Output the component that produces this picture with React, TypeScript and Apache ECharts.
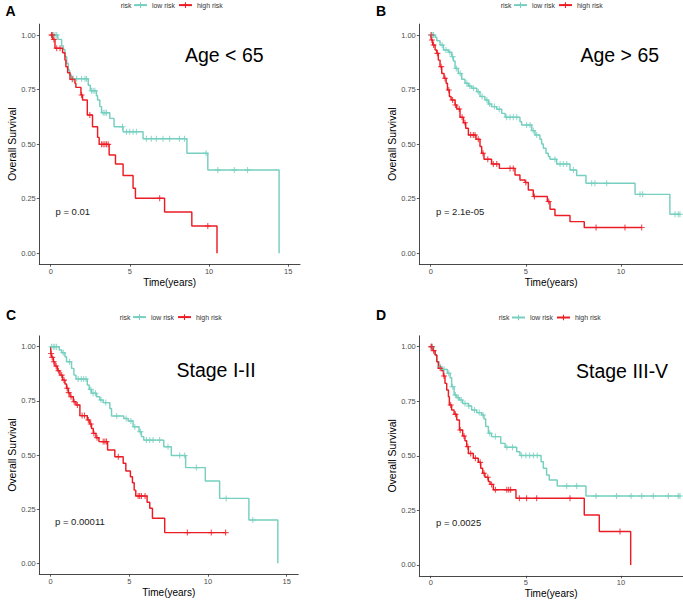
import React, { useEffect, useRef } from "react";
import * as echarts from "echarts";

// ---------- data ----------
const xTicksLong = [0, 5, 10, 15];
const xTicksShort = [0, 5, 10];
const yTicks = [0, 0.25, 0.5, 0.75, 1];
const legendNames = ["low risk", "high risk"];
const panelLetters = ["A", "B", "C", "D"];
const panelTitles = ["Age < 65", "Age > 65", "Stage I-II", "Stage III-V"];
const pValues = ["p = 0.01", "p = 2.1e-05", "p = 0.00011", "p = 0.0025"];

// Panel A (Age < 65)
const aLowTimes = [0.45, 0.69, 0.8, 0.9, 1.01, 1.11, 1.19, 1.32, 2.37, 2.5, 2.89, 2.96, 3.1, 3.21, 3.73, 4.0, 4.57, 5.83, 8.6, 9.92, 14.42];
const aLowSurv = [0.98, 0.95, 0.934, 0.9, 0.87, 0.84, 0.817, 0.8, 0.77, 0.745, 0.722, 0.702, 0.672, 0.644, 0.618, 0.58, 0.557, 0.525, 0.458, 0.382, 0];
const aLowCensor = [0.17, 0.27, 0.38, 1.43, 1.64, 1.95, 2.16, 2.26, 2.58, 2.68, 2.79, 3.31, 3.42, 3.52, 4.53, 4.78, 4.99, 5.2, 5.41, 6.04, 6.35, 6.67, 7.09, 7.51, 8.13, 8.45, 9.81, 10.55, 11.59, 12.43];
const aHighTimes = [0.13, 0.27, 0.75, 0.9, 0.96, 1.07, 1.22, 1.53, 1.59, 1.91, 2.01, 2.31, 2.64, 2.96, 3.06, 3.69, 4.09, 4.57, 5.2, 5.35, 7.19, 8.91, 10.5];
const aHighSurv = [0.98, 0.939, 0.919, 0.885, 0.855, 0.827, 0.797, 0.779, 0.76, 0.725, 0.702, 0.634, 0.58, 0.531, 0.499, 0.45, 0.409, 0.356, 0.298, 0.252, 0.189, 0.125, 0];
const aHighCensor = [0.05, 0.1, 0.2, 0.38, 0.59, 1.36, 1.95, 2.47, 3.21, 3.31, 3.42, 3.52, 3.63, 6.88, 9.92];

// Panel B (Age > 65)
const bLowTimes = [0.23, 0.32, 0.49, 0.67, 0.93, 1.1, 1.19, 1.28, 1.45, 1.63, 1.8, 1.98, 2.15, 2.42, 2.59, 2.85, 3.03, 3.2, 3.47, 3.73, 3.91, 4.69, 4.78, 5.31, 5.48, 5.74, 5.83, 5.92, 6.06, 6.18, 6.27, 6.62, 7.32, 7.67, 8.16, 10.74, 12.57];
const bLowSurv = [0.99, 0.974, 0.954, 0.931, 0.921, 0.901, 0.881, 0.847, 0.824, 0.797, 0.779, 0.766, 0.756, 0.74, 0.718, 0.702, 0.684, 0.672, 0.66, 0.641, 0.623, 0.603, 0.588, 0.562, 0.542, 0.522, 0.501, 0.481, 0.458, 0.443, 0.431, 0.409, 0.382, 0.356, 0.321, 0.27, 0.179];
const bLowCensor = [0.03, 0.08, 0.15, 0.6, 0.8, 1.0, 1.15, 1.35, 1.55, 1.9, 2.05, 2.25, 2.5, 2.7, 2.95, 3.1, 3.35, 3.6, 3.99, 4.17, 4.34, 4.52, 5.04, 5.22, 5.39, 5.57, 6.53, 6.8, 6.97, 7.15, 7.5, 8.46, 8.63, 9.25, 11.0, 11.14, 12.84, 13.01, 13.1];
const bHighTimes = [0.03, 0.105, 0.23, 0.32, 0.4, 0.49, 0.58, 0.7, 0.81, 0.88, 0.98, 1.07, 1.28, 1.37, 1.54, 1.72, 1.84, 1.98, 2.38, 2.59, 2.68, 2.8, 3.2, 3.61, 4.43, 4.69, 4.96, 5.13, 5.39, 6.13, 6.27, 6.53, 7.32, 8.07];
const bHighSurv = [0.977, 0.954, 0.931, 0.916, 0.885, 0.855, 0.824, 0.802, 0.779, 0.748, 0.718, 0.702, 0.679, 0.661, 0.623, 0.598, 0.573, 0.542, 0.522, 0.489, 0.458, 0.431, 0.409, 0.389, 0.359, 0.336, 0.324, 0.29, 0.26, 0.237, 0.202, 0.173, 0.145, 0.118];
const bHighCensor = [0.02, 0.06, 0.15, 0.35, 0.55, 0.75, 0.95, 1.15, 1.3, 1.5, 1.65, 1.8, 2.1, 2.24, 2.33, 2.5, 2.75, 3.0, 3.29, 3.47, 4.17, 4.34, 5.0, 5.45, 6.2, 8.69, 10.21, 11.09];

// Panel C (Stage I-II)
const cLowTimes = [0.55, 0.7, 0.91, 1.01, 1.33, 1.48, 1.61, 2.33, 2.45, 2.6, 2.92, 3.13, 3.34, 3.76, 3.87, 4.65, 4.93, 5.24, 5.62, 5.77, 5.92, 7.19, 7.67, 8.58, 9.83, 10.74, 12.6, 14.44];
const cLowSurv = [0.985, 0.972, 0.954, 0.931, 0.9, 0.869, 0.851, 0.823, 0.803, 0.785, 0.769, 0.754, 0.742, 0.715, 0.68, 0.669, 0.657, 0.631, 0.608, 0.585, 0.569, 0.538, 0.498, 0.442, 0.38, 0.3, 0.2, 0];
const cLowCensor = [0.06, 0.17, 0.27, 0.38, 0.8, 1.2, 1.75, 1.95, 2.1, 2.25, 2.55, 2.7, 2.85, 3.2, 3.5, 4.2, 4.8, 5.1, 5.35, 5.7, 6.09, 6.3, 6.51, 6.93, 7.46, 8.2, 8.52, 9.26, 11.16, 12.85];
const cHighTimes = [0.02, 0.06, 0.17, 0.27, 0.42, 0.59, 0.76, 0.91, 1.01, 1.12, 1.23, 1.44, 1.61, 1.86, 2.33, 2.49, 2.6, 2.71, 2.88, 3.07, 3.62, 4.08, 4.61, 4.78, 5.07, 5.2, 5.31, 5.41, 6.13, 6.3, 6.47, 7.25];
const cHighSurv = [0.969, 0.951, 0.931, 0.911, 0.889, 0.869, 0.846, 0.828, 0.808, 0.788, 0.769, 0.746, 0.731, 0.682, 0.662, 0.643, 0.623, 0.6, 0.58, 0.562, 0.523, 0.492, 0.462, 0.426, 0.4, 0.372, 0.338, 0.311, 0.282, 0.254, 0.208, 0.142];
const cHighCensor = [0.03, 0.1, 0.2, 0.35, 0.5, 0.7, 0.85, 1.05, 1.15, 1.3, 1.5, 1.7, 2.0, 2.15, 2.4, 2.55, 2.75, 2.95, 3.34, 3.45, 3.55, 4.3, 5.56, 5.66, 5.77, 6.0, 8.69, 10.21, 11.12];

// Panel D (Stage III-V)
const dLowTimes = [0.14, 0.23, 0.32, 0.44, 0.58, 0.88, 1.02, 1.1, 1.23, 1.37, 1.51, 1.68, 1.98, 2.15, 2.42, 2.68, 2.8, 2.89, 3.03, 3.2, 3.68, 3.91, 4.52, 4.69, 5.8, 5.92, 6.09, 6.23, 6.65, 8.16];
const dLowSurv = [0.982, 0.962, 0.931, 0.908, 0.896, 0.878, 0.858, 0.817, 0.779, 0.766, 0.756, 0.74, 0.728, 0.71, 0.698, 0.687, 0.669, 0.634, 0.603, 0.588, 0.557, 0.539, 0.519, 0.501, 0.473, 0.443, 0.412, 0.389, 0.362, 0.316];
const dLowCensor = [0.03, 0.08, 0.5, 0.7, 0.95, 1.15, 1.3, 1.45, 1.6, 1.8, 2.0, 2.3, 2.55, 2.75, 3.1, 3.4, 4.0, 4.3, 4.78, 5.0, 5.2, 5.4, 5.6, 7.15, 7.67, 8.69, 9.77, 10.53, 11.09, 11.7, 12.49, 13.01, 13.1];
const dHighTimes = [0.105, 0.23, 0.32, 0.4, 0.58, 0.67, 0.75, 0.84, 0.93, 0.98, 1.1, 1.23, 1.37, 1.51, 1.68, 1.8, 1.89, 1.98, 2.24, 2.5, 2.63, 2.73, 2.85, 3.03, 3.12, 3.29, 4.48, 8.07, 8.86, 10.51];
const dHighSurv = [0.982, 0.962, 0.931, 0.901, 0.89, 0.866, 0.832, 0.802, 0.771, 0.733, 0.71, 0.69, 0.664, 0.618, 0.591, 0.569, 0.542, 0.511, 0.489, 0.47, 0.443, 0.42, 0.402, 0.382, 0.369, 0.344, 0.305, 0.229, 0.153, 0];
const dHighCensor = [0.02, 0.06, 0.15, 0.5, 0.7, 1.05, 1.3, 1.55, 1.75, 1.95, 2.1, 2.35, 2.6, 2.8, 3.0, 3.2, 3.4, 4.0, 4.1, 4.2, 4.66, 5.04, 5.57, 7.32, 9.95];

// ---------- styling / layout ----------
const LOW = "#76CFBF";
const HIGH = "#EC1C24";
const FONT = "'Liberation Sans', Arial, Helvetica, sans-serif";
const PLUS = "path://M4.1,0h1.8v10h-1.8zM0,4.1h10v1.8h-10z";

const layouts = [
  { grid: { left: 39.3, top: 24.1, width: 260.7, height: 240.1 }, xMin: -0.72, xMax: 15.74, ticks: xTicksLong, title: { x: 185, y: 54.5 }, p: { x: 55.5, y: 211 }, letter: { x: 5.5, y: 11 }, legend: 133 },
  { grid: { left: 419.3, top: 24.1, width: 263.7, height: 240.1 }, xMin: -0.6, xMax: 13.26, ticks: xTicksShort, title: { x: 580.5, y: 54.5 }, p: { x: 436, y: 211 }, letter: { x: 376, y: 11 }, legend: 513 },
  { grid: { left: 39.3, top: 335.9, width: 259, height: 238.3 }, xMin: -0.72, xMax: 15.74, ticks: xTicksLong, title: { x: 176.5, y: 370 }, p: { x: 55, y: 521 }, letter: { x: 6, y: 314.5 }, legend: 132 },
  { grid: { left: 419.3, top: 335.8, width: 263.7, height: 240 }, xMin: -0.6, xMax: 13.26, ticks: xTicksShort, title: { x: 576, y: 370.5 }, p: { x: 436, y: 522.5 }, letter: { x: 376, y: 315 }, legend: 511 },
];
const legendY = [1.6, 1.6, 313.6, 314];

const curves = [
  { low: [aLowTimes, aLowSurv, aLowCensor], high: [aHighTimes, aHighSurv, aHighCensor] },
  { low: [bLowTimes, bLowSurv, bLowCensor], high: [bHighTimes, bHighSurv, bHighCensor] },
  { low: [cLowTimes, cLowSurv, cLowCensor], high: [cHighTimes, cHighSurv, cHighCensor] },
  { low: [dLowTimes, dLowSurv, dLowCensor], high: [dHighTimes, dHighSurv, dHighCensor] },
];

function stepData(times: number[], surv: number[], censors: number[]) {
  const d: number[][] = [[0, 1]];
  times.forEach((t, i) => d.push([t, surv[i]]));
  const lastT = times[times.length - 1];
  const lastS = surv[surv.length - 1];
  const maxC = Math.max(...censors);
  if (maxC > lastT) d.push([maxC, lastS]);
  return d;
}

function censorData(times: number[], surv: number[], censors: number[]) {
  return censors.map((c) => {
    let s = 1;
    for (let i = 0; i < times.length; i++) if (times[i] <= c) s = surv[i];
    return [c, s];
  });
}

function buildOption() {
  const grid: any[] = [];
  const xAxis: any[] = [];
  const yAxis: any[] = [];
  const series: any[] = [];
  const legend: any[] = [];
  const graphic: any[] = [];

  layouts.forEach((L, k) => {
    grid.push({ ...L.grid, containLabel: false, outerBoundsMode: "none" });
    xAxis.push({
      type: "value",
      gridIndex: k,
      min: L.xMin,
      max: L.xMax,
      name: "Time(years)",
      nameLocation: "middle",
      nameGap: 13,
      nameTextStyle: { fontSize: 10, color: "#000", fontFamily: FONT },
      axisLine: { show: true, onZero: false, lineStyle: { color: "#333", width: 0.9 } },
      axisTick: { show: true, length: 2.5, customValues: L.ticks, lineStyle: { color: "#333", width: 0.8 } },
      axisLabel: { customValues: L.ticks, fontSize: 7.5, color: "#4D4D4D", margin: 3, fontFamily: FONT, formatter: (v: number) => String(v) },
      splitLine: { show: false },
    });
    yAxis.push({
      type: "value",
      gridIndex: k,
      min: -0.05,
      max: 1.05,
      name: "Overall Survival",
      nameLocation: "middle",
      nameGap: 21,
      nameTextStyle: { fontSize: 10.5, color: "#000", fontFamily: FONT },
      axisLine: { show: true, onZero: false, lineStyle: { color: "#333", width: 0.9 } },
      axisTick: { show: true, length: 2.5, customValues: yTicks, lineStyle: { color: "#333", width: 0.8 } },
      axisLabel: { customValues: yTicks, fontSize: 7.5, color: "#4D4D4D", margin: 3.5, fontFamily: FONT, formatter: (v: number) => v.toFixed(2) },
      splitLine: { show: false },
    });

    const c = curves[k];
    ([["low", LOW, legendNames[0]], ["high", HIGH, legendNames[1]]] as const).forEach(([key, color, name]) => {
      const [t, s, cen] = (c as any)[key];
      series.push({
        type: "line",
        name,
        xAxisIndex: k,
        yAxisIndex: k,
        step: "end",
        symbol: PLUS,
        showSymbol: false,
        data: stepData(t, s, cen),
        lineStyle: { color, width: 1.45 },
        itemStyle: { color },
        z: key === "high" ? 3 : 2,
      });
      series.push({
        type: "scatter",
        name: name + " censored",
        xAxisIndex: k,
        yAxisIndex: k,
        symbol: PLUS,
        symbolSize: 6,
        data: censorData(t, s, cen),
        itemStyle: { color },
        z: key === "high" ? 4 : 3,
      });
    });

    legend.push({
      left: L.legend,
      top: legendY[k],
      padding: 0,
      itemWidth: 13,
      itemHeight: 7,
      itemGap: 3,
      selectedMode: false,
      data: legendNames,
      textStyle: { fontSize: 6.9, color: "#333", fontFamily: FONT },
    });

    graphic.push({
      type: "text",
      x: L.legend - 1.5,
      y: legendY[k] + 3.6,
      style: { text: "risk", fontSize: 6.9, fontFamily: FONT, fill: "#333", align: "right", verticalAlign: "middle" },
    });
    graphic.push({
      type: "text",
      x: L.letter.x,
      y: L.letter.y,
      style: { text: panelLetters[k], fontSize: 14, fontWeight: "bold", fontFamily: FONT, fill: "#000", align: "left", verticalAlign: "middle" },
    });
    graphic.push({
      type: "text",
      x: L.title.x,
      y: L.title.y,
      style: { text: panelTitles[k], fontSize: 19.5, fontFamily: FONT, fill: "#000", align: "left", verticalAlign: "middle" },
    });
    graphic.push({
      type: "text",
      x: L.p.x,
      y: L.p.y,
      style: { text: pValues[k], fontSize: 9.5, fontFamily: FONT, fill: "#222", align: "left", verticalAlign: "middle" },
    });
  });

  return {
    animation: false,
    backgroundColor: "#fff",
    textStyle: { fontFamily: FONT },
    grid,
    xAxis,
    yAxis,
    legend,
    series,
    graphic,
  };
}

export default function App() {
  const ref = useRef<HTMLDivElement>(null);
  useEffect(() => {
    document.body.style.margin = "0";
    if (!ref.current) return;
    const chart = echarts.init(ref.current, null, { renderer: "svg" });
    chart.setOption(buildOption() as any);
    return () => chart.dispose();
  }, []);
  return <div ref={ref} style={{ position: "absolute", left: 0, top: 0, width: 683, height: 602 }} />;
}
